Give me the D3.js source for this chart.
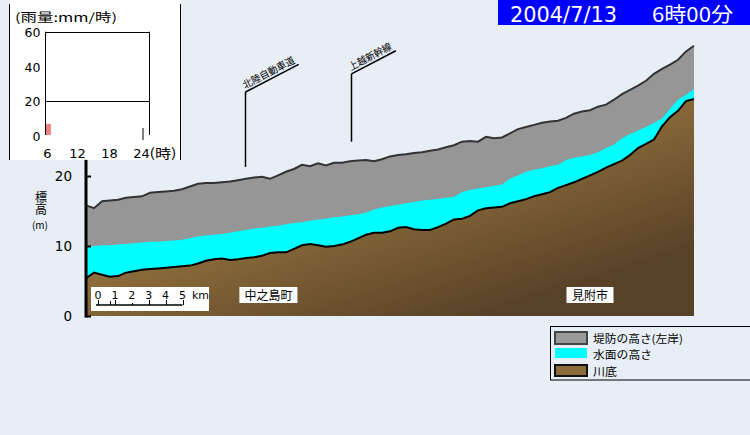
<!DOCTYPE html>
<html><head><meta charset="utf-8">
<script src="https://cdn.jsdelivr.net/npm/d3@7"></script>
<style>html,body{margin:0;padding:0;background:#E7EEF5;} svg{display:block}</style>
</head><body><svg id="c" width="750" height="435"></svg>
<script>
// ---------- data ----------
const distanceKm = [0,0.5,1,1.5,2,2.5,3,3.5,4,4.5,5,5.5,6,6.5,7,7.5,8,8.5,9,9.5,10,10.5,11,11.5,12,12.5,13,13.5,14,14.5,15,15.5,16,16.5,17,17.5,18,18.5,19,19.5,20,20.5,21,21.5,22,22.5,23,23.5,24,24.5,25,25.5,26,26.5,27,27.5,28,28.5,29,29.5,30,30.5,31,31.5,32,32.5,33,33.5,34,34.5,35,35.5,36,36.5,37,37.5,38];
const leveeHeight = [15.8,15.4,16.4,16.5,16.6,16.9,17.0,17.1,17.6,17.7,
  17.8,17.9,18.1,18.5,18.9,19.0,19.0,19.1,19.2,19.4,
  19.6,19.8,19.9,19.6,20.1,20.6,21.0,21.6,21.4,21.8,
  21.5,21.9,21.9,22.1,22.2,22.3,22.1,22.4,22.8,23.0,
  23.1,23.3,23.4,23.6,23.8,24.1,24.4,24.9,25.0,24.9,
  25.6,25.4,25.5,26.1,26.7,27.0,27.3,27.6,27.8,27.9,
  28.3,28.9,29.2,29.4,29.9,30.2,30.9,31.7,32.3,32.9,
  33.6,34.6,35.3,35.9,36.6,37.8,38.6];
const waterLevel = [9.9,10.0,10.1,10.1,10.2,10.3,10.4,10.5,10.6,10.6,
  10.7,10.8,10.9,11.1,11.4,11.5,11.6,11.7,11.9,12.1,
  12.3,12.5,12.6,12.8,12.9,13.1,13.3,13.4,13.6,13.8,
  13.9,14.1,14.2,14.4,14.5,14.8,15.2,15.5,15.7,15.9,
  16.1,16.3,16.5,16.6,16.7,16.9,17.0,17.7,18.0,18.2,
  18.4,18.6,18.8,19.6,20.1,20.6,20.9,21.1,21.4,21.6,
  22.3,22.6,22.8,23.0,23.4,24.0,24.5,25.4,26.0,26.5,
  27.0,27.6,28.2,29.6,30.9,31.6,32.4];
const riverBed = [5.4,6.2,5.9,5.6,5.7,6.2,6.4,6.6,6.7,6.8,
  6.9,7.0,7.1,7.2,7.5,7.9,8.1,8.2,8.0,8.1,
  8.3,8.4,8.6,9.0,9.1,9.1,9.6,10.1,10.3,10.1,
  9.9,10.0,10.2,10.6,11.1,11.6,11.9,11.9,12.1,12.6,
  12.7,12.4,12.3,12.3,12.7,13.2,13.8,13.9,14.3,15.1,
  15.4,15.5,15.6,16.1,16.4,16.7,17.1,17.4,17.7,18.3,
  18.7,19.1,19.6,20.1,20.6,21.2,21.7,22.2,23.0,24.0,
  24.6,25.2,27.1,28.4,29.3,30.7,31.0];
const yTicks = [0,10,20];

const rainHours = [6];
const rainValues = [6.5];
const rainTicks = [0,20,40,60];
const hourTicks = [6,12,18,24];

const landmarkNames = ["北陸自動車道","上越新幹線"];
const landmarkKm = [9.94,16.56];
const townNames = ["中之島町","見附市"];
const townKm = [11.4,31.5];
const scaleBarKm = [0,1,2,3,4,5];
const legendLabels = ["堤防の高さ(左岸)","水面の高さ","川底"];
const titleDate = "2004/7/13";
const titleTime = "6時00分";

// ---------- drawing ----------
const JP = "'Noto Sans CJK JP', sans-serif";
const NUM = "'DejaVu Sans', sans-serif";
const svg = d3.select("#c");
svg.append("rect").attr("width",750).attr("height",435).attr("fill","#E7EEF5");

const defs = svg.append("defs");
const grad = defs.append("linearGradient").attr("id","bed")
  .attr("gradientUnits","userSpaceOnUse")
  .attr("x1",380).attr("y1",110).attr("x2",450).attr("y2",330);
grad.append("stop").attr("offset",0.3).attr("stop-color","#8D6D3B");
grad.append("stop").attr("offset",1).attr("stop-color","#574127");

const x = d3.scaleLinear().domain([0,38]).range([86,694]);
const y = d3.scaleLinear().domain([0,40]).range([316,36]);

// ----- inset rain chart -----
svg.append("rect").attr("x",9.5).attr("y",0).attr("width",171).attr("height",160).attr("fill","#fff");
svg.append("line").attr("x1",9.5).attr("x2",9.5).attr("y1",4).attr("y2",160).attr("stroke","#000");
svg.append("line").attr("x1",180.5).attr("x2",180.5).attr("y1",4).attr("y2",160).attr("stroke","#000");
svg.append("text").attr("x",15).attr("y",22).attr("font-family",JP).attr("font-size",12)
  .attr("textLength",102).attr("lengthAdjust","spacingAndGlyphs").text("(雨量:mm/時)");

const xr = d3.scaleLinear().domain([6,24]).range([45.5,141.5]);
const yr = d3.scaleLinear().domain([0,60]).range([135,31.7]);
const frameRight = 149.5;
svg.selectAll(".rain").data(rainValues).join("rect").attr("class","rain")
  .attr("x",(d,i)=>xr(rainHours[i])).attr("y",d=>yr(d))
  .attr("width",(d,i)=>xr(rainHours[i]+1)-xr(rainHours[i])).attr("height",d=>yr(0)-yr(d))
  .attr("fill","#F08080");
const fr = svg.append("g").attr("stroke","#000").attr("stroke-width",1);
fr.append("line").attr("x1",xr(6)).attr("x2",frameRight).attr("y1",Math.round(yr(60))+0.5).attr("y2",Math.round(yr(60))+0.5);
fr.append("line").attr("x1",xr(6)).attr("x2",frameRight).attr("y1",Math.round(yr(20))+0.5).attr("y2",Math.round(yr(20))+0.5);
fr.append("line").attr("x1",xr(6)).attr("x2",xr(6)).attr("y1",yr(60)).attr("y2",yr(0));
fr.append("line").attr("x1",frameRight).attr("x2",frameRight).attr("y1",yr(60)).attr("y2",yr(0));
fr.append("line").attr("x1",xr(24)+1.5).attr("x2",xr(24)+1.5).attr("y1",yr(0)-7).attr("y2",yr(0)+5);

const ryAxis = svg.append("g").attr("transform",`translate(${xr(6)},0)`)
  .call(d3.axisLeft(yr).tickValues(rainTicks).tickSize(0).tickPadding(5));
ryAxis.select(".domain").remove();
ryAxis.selectAll("text").attr("font-family",NUM).attr("font-size",12.5).attr("fill","#000").attr("dy","0.4em");

svg.selectAll(".hlab").data(hourTicks).join("text").attr("class","hlab")
  .attr("x",d=>xr(d)+(d===6?2:0)).attr("y",158).attr("text-anchor","middle")
  .attr("font-family",NUM).attr("font-size",13).text(d=>d);
svg.append("text").attr("x",xr(24)+8).attr("y",158).attr("font-family",JP).attr("font-size",13)
  .attr("textLength",27).attr("lengthAdjust","spacingAndGlyphs").text("(時)");

// ----- title -----
svg.append("rect").attr("x",498).attr("y",0).attr("width",252).attr("height",25).attr("fill","#0000FF");
svg.append("text").attr("x",510).attr("y",22).attr("fill","#fff").attr("font-family","'DejaVu Sans Condensed','DejaVu Sans',sans-serif")
  .attr("font-size",21).attr("textLength",107).attr("lengthAdjust","spacingAndGlyphs").text(titleDate);
svg.append("text").attr("x",652).attr("y",22).attr("fill","#fff").attr("font-family",JP)
  .attr("font-size",20).attr("textLength",81).attr("lengthAdjust","spacingAndGlyphs").text(titleTime);

// ----- landmarks -----
const lmTop = [32.0,34.6];     // elevation where the leader line turns
const lmBottom = [21.3,24.9];
const lmLen = [60,50];
const ang = -27.5;
landmarkNames.forEach((name,i)=>{
  const lx = Math.round(x(landmarkKm[i]))+0.5, ty = y(lmTop[i]);
  svg.append("line").attr("x1",lx).attr("x2",lx).attr("y1",ty).attr("y2",y(lmBottom[i])).attr("stroke","#000").attr("stroke-width",1.5);
  const gg = svg.append("g").attr("transform",`translate(${lx},${ty}) rotate(${ang})`);
  gg.append("line").attr("x1",0).attr("x2",lmLen[i]).attr("y1",0).attr("y2",0).attr("stroke","#000").attr("stroke-width",1.5);
  gg.append("text").attr("x",1).attr("y",-3).attr("font-family",JP).attr("font-size",10)
    .attr("textLength",lmLen[i]-3).attr("lengthAdjust","spacingAndGlyphs").text(name);
});

// ----- profile -----
const area = vals => d3.area().x((d,i)=>x(distanceKm[i])).y0(y(0)).y1(d=>y(d))(vals);
const line = vals => d3.line().x((d,i)=>x(distanceKm[i])).y(d=>y(d))(vals);
svg.append("path").attr("d",area(leveeHeight)).attr("fill","#969696");
svg.append("path").attr("d",area(waterLevel)).attr("fill","#00FFFF");
svg.append("path").attr("d",area(riverBed)).attr("fill","url(#bed)");
svg.append("path").attr("d",line(leveeHeight)).attr("fill","none").attr("stroke","#333").attr("stroke-width",2);
svg.append("path").attr("d",line(riverBed)).attr("fill","none").attr("stroke","#000").attr("stroke-width",2);

// ----- y axis -----
const axisTopElev = 22.3;
svg.append("line").attr("x1",86).attr("x2",86).attr("y1",y(0)+1.5).attr("y2",y(axisTopElev))
  .attr("stroke","#000").attr("stroke-width",3);
const ax = svg.append("g").attr("transform","translate(86,0)")
  .call(d3.axisLeft(y).tickValues(yTicks).tickSizeInner(-5).tickSizeOuter(0).tickPadding(14));
ax.select(".domain").remove();
ax.selectAll("line").attr("stroke","#000").attr("stroke-width",2);
ax.selectAll("text").attr("font-family",NUM).attr("font-size",13.5).attr("fill","#000");
svg.append("text").attr("x",41).attr("y",191).attr("font-family",JP).attr("font-size",12)
  .style("writing-mode","vertical-rl").style("text-orientation","upright")
  .attr("textLength",25).attr("lengthAdjust","spacingAndGlyphs").text("標高");
svg.append("text").attr("x",40).attr("y",229).attr("text-anchor","middle").attr("font-family",JP).attr("font-size",10).text("(m)");

// ----- scale bar -----
svg.append("rect").attr("x",91).attr("y",287).attr("width",118).attr("height",24).attr("fill","#fff");
const sb = d3.scaleLinear().domain([0,5]).range([98,182.5]);
svg.append("line").attr("x1",sb(0)-2).attr("x2",sb(5)).attr("y1",305).attr("y2",305).attr("stroke","#000").attr("stroke-width",1.5);
svg.selectAll(".sbt").data(scaleBarKm).join("line").attr("class","sbt")
  .attr("x1",d=>Math.round(sb(d))+0.5).attr("x2",d=>Math.round(sb(d))+0.5)
  .attr("y1",d=>d===2?303:300).attr("y2",305).attr("stroke","#000");
svg.append("line").attr("x1",Math.round(sb(0.7))+0.5).attr("x2",Math.round(sb(0.7))+0.5).attr("y1",301).attr("y2",305).attr("stroke","#000");
svg.selectAll(".sbl").data(scaleBarKm).join("text").attr("class","sbl")
  .attr("x",d=>sb(d)).attr("y",298.5).attr("text-anchor","middle")
  .attr("font-family",NUM).attr("font-size",11).text(d=>d);
svg.append("text").attr("x",192).attr("y",298.5).attr("font-family",NUM).attr("font-size",11).text("km");

// ----- town labels -----
const townW = [58,47];
townNames.forEach((t,i)=>{
  const cx = x(townKm[i]);
  svg.append("rect").attr("x",cx-townW[i]/2).attr("y",287).attr("width",townW[i]).attr("height",16).attr("fill","#fff");
  svg.append("text").attr("x",cx).attr("y",300).attr("text-anchor","middle").attr("font-family",JP).attr("font-size",12).text(t);
});

// ----- legend -----
svg.append("rect").attr("x",550.5).attr("y",326.5).attr("width",220).attr("height",53.5)
  .attr("fill","none").attr("stroke","#000");
const sw = [
  {y:332,h:12,fill:"#999999",stroke:"#444",base:342.5,len:90},
  {y:348,h:10,fill:"#00FFFF",stroke:null,base:359,len:59},
  {y:365,h:11,fill:"#8B6D3C",stroke:"#111",base:375.5,len:24}];
sw.forEach((s,i)=>{
  const r = svg.append("rect").attr("x",555).attr("y",s.y).attr("width",32).attr("height",s.h).attr("fill",s.fill);
  if (s.stroke) r.attr("stroke",s.stroke).attr("stroke-width",2);
  svg.append("text").attr("x",593).attr("y",s.base).attr("font-family",JP).attr("font-size",11)
    .attr("textLength",s.len).attr("lengthAdjust","spacingAndGlyphs").text(legendLabels[i]);
});
</script></body></html>
